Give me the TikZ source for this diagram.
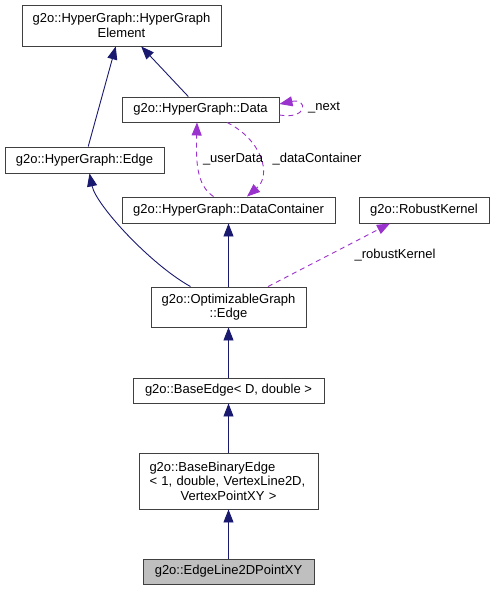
\documentclass[tikz,border=0pt]{standalone}
\usepackage{fontspec}
\setmainfont{Liberation Sans}
\usetikzlibrary{arrows.meta}
\definecolor{inhblue}{HTML}{191970}
\definecolor{usepurple}{HTML}{9A32CD}
\tikzset{
  cls/.style={draw=black!75, line width=0.9pt, inner sep=0pt, font=\fontsize{13}{14.5}\selectfont, align=center},
  inh/.style={draw=inhblue, line width=0.9pt, -{Triangle[length=13pt,width=10pt]}, fill=none},
  use/.style={draw=usepurple, line width=0.9pt, dash pattern=on 5pt off 4pt, -{Triangle[length=13pt,width=10pt]}},
  lbl/.style={font=\fontsize{13}{14.5}\selectfont, inner sep=0pt}
}
\begin{document}
\begin{tikzpicture}[x=1pt,y=-1pt]
  \useasboundingbox (0,0) rectangle (495,591);
  \node[cls, minimum width=199pt, minimum height=41pt] (hge) at (121.5,25.5) {g2o::HyperGraph::HyperGraph\\Element};
  \node[cls, minimum width=157pt, minimum height=25pt] (data) at (200.5,109.5) {g2o::HyperGraph::Data};
  \node[cls, minimum width=159pt, minimum height=26pt] (hgedge) at (84.5,160) {g2o::HyperGraph::Edge};
  \node[cls, minimum width=213pt, minimum height=26pt] (dc) at (228.5,210) {g2o::HyperGraph::DataContainer};
  \node[cls, minimum width=130pt, minimum height=26pt] (rk) at (424,210) {g2o::RobustKernel};
  \node[cls, minimum width=155pt, minimum height=40pt] (oge) at (228.5,307) {g2o::OptimizableGraph\\::Edge};
  \node[cls, minimum width=191pt, minimum height=25pt] (be) at (228.5,390.5) {g2o::BaseEdge< D, double >};
  \node[cls, minimum width=179pt, minimum height=56pt, text width=158pt] (bbe) at (228.5,481)
    {g2o::BaseBinaryEdge\hfill\null\\< 1, double, VertexLine2D,\hfill\null\\VertexPointXY >};
  \node[cls, fill=black!25, minimum width=171pt, minimum height=25pt] (el) at (228.5,571.5) {g2o::EdgeLine2DPointXY};

  % inheritance
  \draw[inh] (hgedge) -- (hge);
  \draw[inh] (data) -- (hge);
  \draw[inh] ([xshift=-38pt]oge.north) .. controls (150,264) and (96,205) .. ([xshift=5pt]hgedge.south);
  \draw[inh] (oge) -- (dc);
  \draw[inh] (be) -- (oge);
  \draw[inh] (bbe) -- (be);
  \draw[inh] (el) -- (bbe);

  % usage
  \draw[use] ([xshift=-15pt]dc.north) .. controls (196,185) and (196,160) .. ([xshift=-3.5pt]data.south);
  \draw[use] ([xshift=26.5pt]data.south) .. controls (262,140) and (272,175) .. ([xshift=18.5pt]dc.north);
  \draw[use] ([yshift=-5.5pt]data.east) .. controls (308,120) and (308,98) .. ([yshift=5.5pt]data.east);
  \draw[use] ([xshift=39.5pt]oge.north) -- ([xshift=-34pt]rk.south);
  \node[lbl] (ludata) at (233,159) {\_userData};
  \node[lbl] (ldc) at (317,159) {\_dataContainer};
  \node[lbl] (lnext) at (324,108) {\_next};
  \node[lbl] (lrk) at (395,255) {\_robustKernel};
\end{tikzpicture}
\end{document}
